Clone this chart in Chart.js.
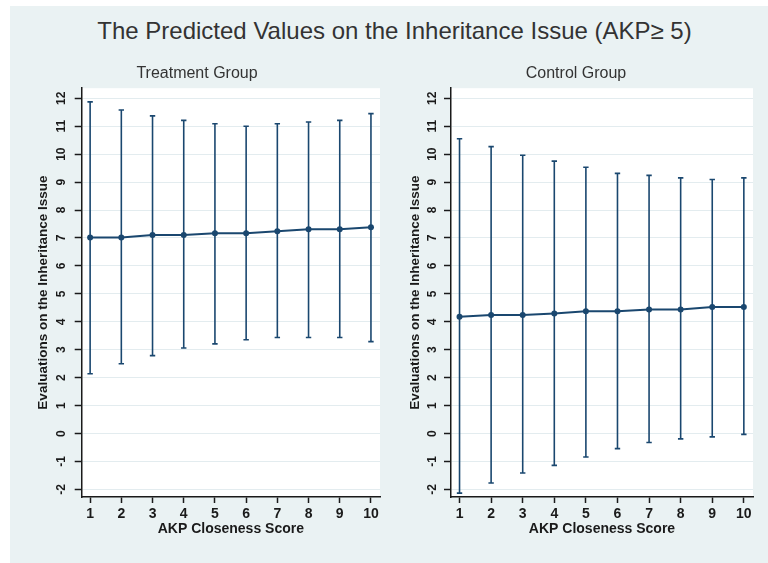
<!DOCTYPE html>
<html>
<head>
<meta charset="utf-8">
<script src="https://cdn.jsdelivr.net/npm/chart.js@4/dist/chart.umd.min.js"></script>
<style>
  body { margin: 0; background: #fff; width: 768px; height: 563px; position: relative; overflow: hidden; font-family: 'Liberation Sans', Arial, sans-serif; }
  #panel { position: absolute; left: 10px; top: 6px; right: 0; bottom: 0; background: #eaf2f3; }
  #title { position: absolute; left: 0; width: 789px; top: 17px; text-align: center; font-size: 24px; line-height: 28px; color: #333; }
  .box { position: absolute; top: 56px; }
  #leftBox { left: 14px; }
  #rightBox { left: 390px; }
</style>
</head>
<body>
<div id="panel"></div>
<div id="title">The Predicted Values on the Inheritance Issue (AKP≥ 5)</div>
<div class="box" id="leftBox"><canvas id="treatChart" width="372" height="507"></canvas></div>
<div class="box" id="rightBox"><canvas id="ctrlChart" width="372" height="507"></canvas></div>
<script>
// AKP closeness score categories and y tick labels
const scores = [1, 2, 3, 4, 5, 6, 7, 8, 9, 10];
const yTicks = [-2, -1, 0, 1, 2, 3, 4, 5, 6, 7, 8, 9, 10, 11, 12];

// Treatment group: predicted value and confidence interval
const treatPred = [7.02, 7.02, 7.11, 7.11, 7.17, 7.17, 7.24, 7.31, 7.31, 7.38];
const treatLow  = [2.14, 2.50, 2.79, 3.06, 3.21, 3.36, 3.44, 3.44, 3.44, 3.29];
const treatHigh = [11.87, 11.58, 11.37, 11.21, 11.09, 11.00, 11.09, 11.15, 11.21, 11.45];

// Control group
const ctrlPred = [4.18, 4.24, 4.24, 4.30, 4.38, 4.38, 4.44, 4.44, 4.53, 4.53];
const ctrlLow  = [-2.13, -1.77, -1.41, -1.14, -0.84, -0.54, -0.32, -0.19, -0.12, -0.03];
const ctrlHigh = [10.55, 10.27, 9.96, 9.75, 9.53, 9.31, 9.24, 9.15, 9.09, 9.15];

const navy = '#1a476f';
const ink = '#1a1a1a';
const family = "'Liberation Sans', Arial, sans-serif";

// vertical segments lo -> hi, broken by a null point
function errorPoints(lo, hi) {
    const pts = [];
    scores.forEach((x, i) => {
        pts.push({x: x, y: lo[i]}, {x: x, y: hi[i]}, {x: x, y: null});
    });
    return pts;
}

const plotBackground = {
    id: 'plotBackground',
    beforeDraw(chart) {
        const {ctx, chartArea: a} = chart;
        ctx.save();
        ctx.fillStyle = '#fff';
        ctx.fillRect(a.left, a.top, a.width, a.height);
        ctx.restore();
    }
};

function makeChart(canvasId, subtitle, pred, lo, hi, lay) {
    const ctx = document.getElementById(canvasId).getContext('2d');
    return new Chart(ctx, {
        type: 'scatter',
        data: {
            datasets: [{
                data: scores.map((x, i) => ({x: x, y: pred[i]})),
                showLine: true,
                borderColor: navy,
                backgroundColor: navy,
                borderWidth: 2,
                pointRadius: 3,
                pointBorderWidth: 0,
                order: 0
            }, {
                data: errorPoints(lo, hi),
                showLine: true,
                spanGaps: false,
                borderColor: navy,
                borderWidth: 1.6,
                pointStyle: 'line',
                pointRadius: 2.7,
                pointBorderWidth: 1.6,
                pointBorderColor: navy,
                order: 1
            }]
        },
        options: {
            responsive: false,
            devicePixelRatio: 1,
            animation: false,
            layout: {
                padding: {left: lay.padL, right: lay.padR, top: 0, bottom: lay.padB}
            },
            plugins: {
                legend: {display: false},
                tooltip: {enabled: false},
                title: {
                    display: true,
                    text: subtitle,
                    color: '#333',
                    font: {family: family, size: 16, weight: 'normal'},
                    padding: {top: 8, bottom: 5}
                }
            },
            scales: {
                x: {
                    type: 'linear',
                    min: 0.73,
                    max: 10.29,
                    afterBuildTicks: s => { s.ticks = scores.map(v => ({value: v})); },
                    afterFit: s => { s.height = 45; },
                    grid: {drawOnChartArea: false, tickLength: 6, tickColor: ink, tickWidth: 1.5},
                    border: {color: ink, width: 1.5},
                    ticks: {color: ink, font: {family: family, size: 14, weight: 'bold'}, padding: 3, autoSkip: false, maxRotation: 0},
                    title: {
                        display: true,
                        text: 'AKP Closeness Score',
                        color: ink,
                        font: {family: family, size: 14, weight: 'bold'},
                        padding: {top: 0, bottom: 4}
                    }
                },
                y: {
                    type: 'linear',
                    min: -2.27,
                    max: 12.36,
                    afterBuildTicks: s => { s.ticks = yTicks.map(v => ({value: v})); },
                    afterFit: s => { s.width = lay.axisW; },
                    grid: {color: '#e3ecef', lineWidth: 1, tickLength: 7, tickColor: ink, tickWidth: 1.5},
                    border: {color: ink, width: 1.5},
                    ticks: {
                        color: ink,
                        font: {family: family, size: 12, weight: 'bold'},
                        padding: lay.tickPad,
                        minRotation: 90,
                        maxRotation: 90,
                        crossAlign: 'center',
                        autoSkip: false
                    },
                    title: {
                        display: true,
                        text: 'Evaluations on the Inheritance Issue',
                        color: ink,
                        font: {family: family, size: 13.5, weight: 'bold'},
                        padding: {top: lay.titlePad, bottom: 0}
                    }
                }
            }
        },
        plugins: [plotBackground]
    });
}

makeChart('treatChart', 'Treatment Group', treatPred, treatLow, treatHigh,
    {padL: 0, padR: 6, padB: 21, axisW: 67.7, titlePad: 20.9, tickPad: 6});
makeChart('ctrlChart', 'Control Group', ctrlPred, ctrlLow, ctrlHigh,
    {padL: 9, padR: 9, padB: 21, axisW: 52, titlePad: 7.9, tickPad: 4.3});
</script>
</body>
</html>
